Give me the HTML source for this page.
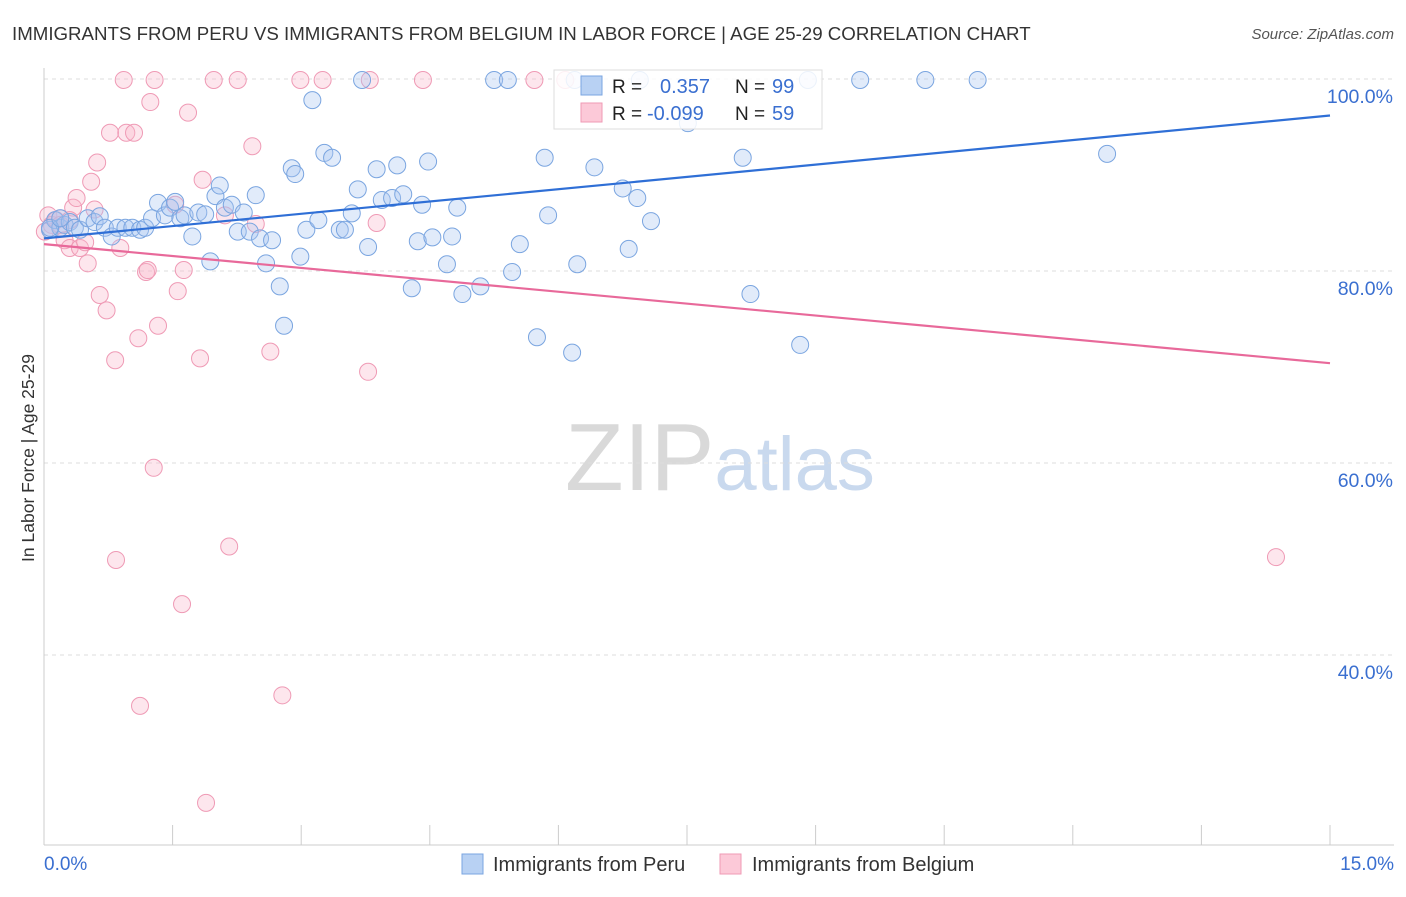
<!DOCTYPE html>
<html><head><meta charset="utf-8"><style>
body{margin:0;background:#fff;font-family:"Liberation Sans",sans-serif;}
svg text{font-family:"Liberation Sans",sans-serif;}
</style></head><body>
<svg id="chart" width="1406" height="892" viewBox="0 0 1406 892" xmlns="http://www.w3.org/2000/svg">
<text x="12" y="40" font-size="18.7" fill="#333">IMMIGRANTS FROM PERU VS IMMIGRANTS FROM BELGIUM IN LABOR FORCE | AGE 25-29 CORRELATION CHART</text>
<text x="1394" y="39" font-size="15" fill="#555" text-anchor="end" font-style="italic">Source: ZipAtlas.com</text>
<text x="720" y="490" font-size="96" text-anchor="middle" fill="#ddd" font-family="Liberation Serif"><tspan fill="#d9d9d9">ZIP</tspan><tspan fill="#c9d9ee" font-family="Liberation Sans" font-size="76">atlas</tspan></text>
<text transform="translate(34,458) rotate(-90)" font-size="17.5" fill="#333" text-anchor="middle">In Labor Force | Age 25-29</text>
<g id="grid"></g><g id="axes"></g><g id="pink"></g><g id="blue"></g><g id="trends"></g>
<g>
<rect x="554" y="70" width="268" height="59" fill="#fff" fill-opacity="0.85" stroke="#ddd"/>
<rect x="581" y="76" width="21" height="19" fill="#b8d1f3" stroke="#7aa5e0"/>
<rect x="581" y="103" width="21" height="19" fill="#fcc9d8" stroke="#ef9ab5"/>
<text x="612" y="93" font-size="19" fill="#222">R =</text><text x="660" y="93" font-size="20" fill="#3a6fd0">0.357</text>
<text x="735" y="93" font-size="19" fill="#222">N =</text><text x="772" y="93" font-size="20" fill="#3a6fd0">99</text>
<text x="612" y="120" font-size="19" fill="#222">R =</text><text x="647" y="120" font-size="20" fill="#3a6fd0">-0.099</text>
<text x="735" y="120" font-size="19" fill="#222">N =</text><text x="772" y="120" font-size="20" fill="#3a6fd0">59</text>
</g>
<g>
<rect x="462" y="854" width="21" height="20" fill="#b8d1f3" stroke="#7aa5e0"/>
<text x="493" y="871" font-size="20" fill="#333">Immigrants from Peru</text>
<rect x="720" y="854" width="21" height="20" fill="#fcc9d8" stroke="#ef9ab5"/>
<text x="752" y="871" font-size="20" fill="#333">Immigrants from Belgium</text>
</g>
</svg>
<script>
const xTicks=[0,1.5,3,4.5,6,7.5,9,10.5,12,13.5,15];
const yTicks=[100,80,60,40];
const yTickLabels=["100.0%","80.0%","60.0%","40.0%"];
const blueX=[0.07,0.13,0.19,0.24,0.30,0.36,0.42,0.51,0.59,0.65,0.71,0.79,0.86,0.95,1.03,1.12,1.18,1.26,1.33,1.41,1.47,1.53,1.59,1.64,1.73,1.80,1.88,1.94,2.00,2.05,2.11,2.19,2.26,2.33,2.40,2.47,2.52,2.59,2.66,2.75,2.80,2.89,2.93,2.99,3.06,3.13,3.20,3.27,3.36,3.45,3.51,3.59,3.66,3.71,3.78,3.88,3.94,4.06,4.12,4.19,4.29,4.36,4.41,4.48,4.53,4.70,4.76,4.82,4.88,5.09,5.25,5.41,5.46,5.55,5.75,5.84,5.88,6.16,6.22,6.42,6.75,6.82,6.92,7.08,7.51,8.15,8.24,8.82,8.91,9.52,10.28,10.89,12.40,0.07,0.19,6.19,6.95];
const blueY=[84.3,85.3,84.5,84.8,85.1,84.5,84.3,85.5,85.1,85.7,84.5,83.6,84.5,84.5,84.5,84.3,84.5,85.5,87.1,85.8,86.6,87.2,85.5,85.8,83.6,86.1,85.9,81.0,87.8,88.9,86.6,86.9,84.1,86.1,84.1,87.9,83.4,80.8,83.2,78.4,74.3,90.7,90.1,81.5,84.3,97.8,85.3,92.3,91.8,84.3,84.3,86.0,88.5,99.9,82.5,90.6,87.4,87.6,91.0,88.0,78.2,83.1,86.9,91.4,83.5,80.7,83.6,86.6,77.6,78.4,99.9,99.9,79.9,82.8,73.1,91.8,85.8,71.5,80.7,90.8,88.6,82.3,87.6,85.2,95.4,91.8,77.6,72.3,99.9,99.9,99.9,99.9,92.2,84.5,85.5,99.9,99.9];
const pinkX=[0.05,0.09,0.14,0.19,0.24,0.30,0.34,0.38,0.42,0.48,0.51,0.55,0.59,0.62,0.65,0.73,0.77,0.83,0.89,0.93,0.96,1.05,1.10,1.19,1.21,1.24,1.28,1.29,1.12,0.84,1.33,1.53,1.56,1.61,1.63,1.68,1.82,1.85,1.89,1.98,2.11,2.16,2.26,2.43,2.47,2.64,2.78,2.99,3.25,3.78,3.80,3.88,4.42,5.72,6.08,14.37,0.19,0.30,0.01];
const pinkY=[85.8,84.8,85.3,85.5,83.2,82.4,86.6,87.6,82.4,83.0,80.8,89.3,86.4,91.3,77.5,75.9,94.4,70.7,82.4,99.9,94.4,94.4,73.0,79.9,80.1,97.6,59.5,99.9,34.7,49.9,74.3,86.9,77.9,45.3,80.1,96.5,70.9,89.5,24.6,99.9,85.8,51.3,99.9,93.0,84.9,71.6,35.8,99.9,99.9,69.5,99.9,85.0,99.9,99.9,99.9,50.2,84.8,85.3,84.1];
const blueTrend=[83.4,96.2];
const pinkTrend=[82.8,70.4];
const X=v=>44+v*(1286/15), Y=v=>79+(100-v)*9.6;
const NS="http://www.w3.org/2000/svg";
function mk(tag,attrs,parent){const e=document.createElementNS(NS,tag);for(const k in attrs)e.setAttribute(k,attrs[k]);document.getElementById(parent).appendChild(e);return e;}
yTicks.forEach((t,i)=>{
 const l=mk('line',{x1:44,x2:1394,y1:Y(t),y2:Y(t),stroke:'#ddd','stroke-dasharray':'4,4'},'grid');
 
 
 const tx=mk('text',{x:1393,y:Y(t)+24,'font-size':19.5,fill:'#3a6fd0','text-anchor':'end'},'axes');tx.textContent=yTickLabels[i];
 
 
});
const ax=mk('line',{x1:44,x2:1394,y1:845,y2:845,stroke:'#ccc'},'axes');


const ay=mk('line',{x1:44,x2:44,y1:68,y2:845,stroke:'#ccc'},'axes');


xTicks.forEach(t=>{const l=mk('line',{x1:X(t),x2:X(t),y1:825,y2:845,stroke:'#ccc'},'axes');
 
 });
const x0=mk('text',{x:44,y:870,'font-size':19,fill:'#3a6fd0'},'axes');x0.textContent='0.0%';


const x1=mk('text',{x:1394,y:870,'font-size':19,fill:'#3a6fd0','text-anchor':'end'},'axes');x1.textContent='15.0%';


pinkX.forEach((v,i)=>{const c=mk('circle',{cx:X(v),cy:Y(pinkY[i]),r:8.5,fill:'#f9b8cc','fill-opacity':0.35,stroke:'#ef9ab5','stroke-width':1},'pink');
 
 });
blueX.forEach((v,i)=>{const c=mk('circle',{cx:X(v),cy:Y(blueY[i]),r:8.5,fill:'#a9c7f0','fill-opacity':0.35,stroke:'#7aa5e0','stroke-width':1},'blue');
 
 });
const bt=mk('line',{x1:X(0),y1:Y(blueTrend[0]),x2:X(15),y2:Y(blueTrend[1]),stroke:'#2f6fd6','stroke-width':2.2},'trends');


const pt=mk('line',{x1:X(0),y1:Y(pinkTrend[0]),x2:X(15),y2:Y(pinkTrend[1]),stroke:'#e8699a','stroke-width':2.2},'trends');


</script>
</body></html>
